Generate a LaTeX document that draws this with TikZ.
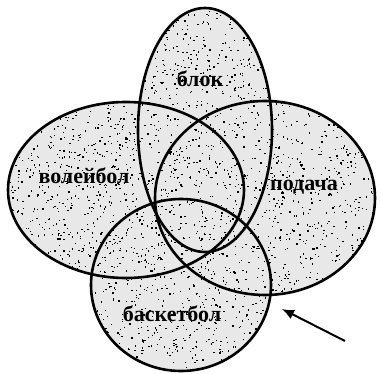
\documentclass[tikz,border=0pt]{standalone}
\usepackage{fontspec}
\setmainfont{Liberation Serif}
\usetikzlibrary{arrows.meta}
\begin{document}
\begin{tikzpicture}[x=1pt,y=-1pt,
  setline/.style={line width=2.6pt,black},
  setfill/.style={fill=black!9},
  lbl/.style={font=\fontsize{22}{22}\selectfont\bfseries,inner sep=0pt},
  pointer/.style={line width=2pt,-{Latex[length=12pt,width=10pt]}}]
\useasboundingbox (0,0) rectangle (381,374);
% fills
\fill[setfill] (205,130) ellipse [x radius=67pt, y radius=122pt];
\fill[setfill] (126,190) ellipse [x radius=118pt, y radius=88pt];
\fill[setfill] (265,198) ellipse [x radius=110pt, y radius=97pt];
\fill[setfill] (181,285) ellipse [x radius=90pt, y radius=86pt];
% stipple
\begin{scope}
\clip (205,130) ellipse [x radius=67pt, y radius=122pt]
      (126,190) ellipse [x radius=118pt, y radius=88pt]
      (265,198) ellipse [x radius=110pt, y radius=97pt]
      (181,285) ellipse [x radius=90pt, y radius=86pt];
\pgfmathsetseed{7}
\foreach \i in {1,...,3200}{
  \pgfmathsetmacro\px{8+rnd*368}
  \pgfmathsetmacro\py{8+rnd*366}
  \fill[black] (\px,\py) rectangle ++(1.3,1.3);
}
\end{scope}
% outlines
\draw[setline] (205,130) ellipse [x radius=67pt, y radius=122pt];
\draw[setline] (126,190) ellipse [x radius=118pt, y radius=88pt];
\draw[setline] (265,198) ellipse [x radius=110pt, y radius=97pt];
\draw[setline] (181,285) ellipse [x radius=90pt, y radius=86pt];
% labels
\node[lbl] (blok) at (200,79) {блок};
\node[lbl] (volley) at (84,176) {волейбол};
\node[lbl] (podacha) at (304,187) {подача};
\node[lbl] (basket) at (172,314) {баскетбол};
% arrow
\coordinate (atail) at (345,341);
\coordinate (ahead) at (282,309);
\draw[pointer] (atail) -- (ahead);
\end{tikzpicture}
\end{document}
